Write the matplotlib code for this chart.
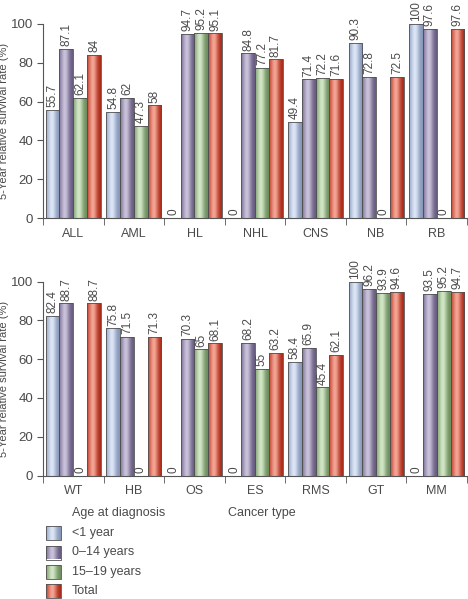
import numpy as np
import matplotlib
matplotlib.use("Agg")
import matplotlib.pyplot as plt
from matplotlib.patches import Rectangle
from matplotlib.colors import to_rgb

plt.rcParams['font.family'] = ['Liberation Sans', 'DejaVu Sans']

series = ['<1 year', '0\u201314 years', '15\u201319 years', 'Total']

top_types = ['ALL', 'AML', 'HL', 'NHL', 'CNS', 'NB', 'RB']
top_lt1 = [55.7, 54.8, 0, 0, 49.4, 90.3, 100]
top_0_14 = [87.1, 62, 94.7, 84.8, 71.4, 72.8, 97.6]
top_15_19 = [62.1, 47.3, 95.2, 77.2, 72.2, 0, 0]
top_total = [84, 58, 95.1, 81.7, 71.6, 72.5, 97.6]

bot_types = ['WT', 'HB', 'OS', 'ES', 'RMS', 'GT', 'MM']
bot_lt1 = [82.4, 75.8, 0, 0, 58.4, 100, 0]
bot_0_14 = [88.7, 71.5, 70.3, 68.2, 65.9, 96.2, 93.5]
bot_15_19 = [0, 0, 65, 55, 45.4, 93.9, 95.2]
bot_total = [88.7, 71.3, 68.1, 63.2, 62.1, 94.6, 94.7]

# (left edge, highlight, right edge) for the shaded bars
shades = [('#93a4c6', '#dce6f5', '#8494b6'),
          ('#7a6e96', '#cac2da', '#655a7e'),
          ('#7c9e6e', '#d2e6c6', '#6a8c5c'),
          ('#c23c28', '#f4a595', '#a82816')]
txt = '#4a4a4a'


def gradient(c_left, c_mid, c_right, n=60):
    t = np.linspace(0, 1, n)
    f = np.exp(-((t - 0.42) / 0.3) ** 2)
    le = np.array(to_rgb(c_left))
    ri = np.array(to_rgb(c_right))
    m = np.array(to_rgb(c_mid))
    base = le[None, :] * (1 - t[:, None]) + ri[None, :] * t[:, None]
    return (base + (m[None, :] - base) * f[:, None])[None, :, :]


def shaded_rect(ax, x, y, w, h, k):
    r = Rectangle((x, y), w, h, facecolor='none', edgecolor='#505050',
                  linewidth=0.6, zorder=3)
    ax.add_patch(r)
    im = ax.imshow(gradient(*shades[k]), extent=[x, x + w, y, y + h],
                   aspect='auto', zorder=2, interpolation='bilinear')
    im.set_clip_path(r)


def panel(ax, types, data):
    w = 0.228
    for k, vals in enumerate(data):
        for i, v in enumerate(vals):
            x0 = i - 2 * w + k * w
            if v > 0:
                shaded_rect(ax, x0, 0, w, v, k)
            ax.text(x0 + w / 2, v + 1.5, f'{v:g}', rotation=90, ha='center',
                    va='bottom', fontsize=8.5, color=txt)
    ax.set_xlim(-0.5, len(types) - 0.5)
    ax.set_ylim(0, 100)
    for s in ['top', 'right']:
        ax.spines[s].set_visible(False)
    for s in ['left', 'bottom']:
        ax.spines[s].set_color('#555555')
        ax.spines[s].set_linewidth(0.8)
    ax.spines['left'].set_bounds(0, 100)
    ax.set_yticks(range(0, 101, 20))
    ax.set_xticks(range(len(types)))
    ax.set_xticklabels(types)
    ax.set_xticks(np.arange(-0.5, len(types)), minor=True)
    ax.tick_params(axis='x', which='major', length=0, pad=7,
                   labelsize=9, labelcolor=txt)
    ax.tick_params(axis='x', which='minor', length=5, color='#555555')
    ax.tick_params(axis='y', length=4, color='#555555', labelsize=9.5,
                   labelcolor=txt, pad=3)
    ax.set_ylabel('5-Year relative survival rate (%)', fontsize=8,
                  color=txt)
    ax.yaxis.set_label_coords(-0.081, 0.5)


fig = plt.figure(figsize=(4.68, 5.99), dpi=100)
ax1 = fig.add_axes([0.0919, 0.636, 0.906, 0.324])
ax2 = fig.add_axes([0.0919, 0.206, 0.906, 0.324])
panel(ax1, top_types, [top_lt1, top_0_14, top_15_19, top_total])
panel(ax2, bot_types, [bot_lt1, bot_0_14, bot_15_19, bot_total])

# legend drawn in pixel-like figure coordinates
lg = fig.add_axes([0, 0, 1, 1], facecolor='none')
lg.text(72, 513, 'Age at diagnosis', fontsize=9, color=txt, va='center')
lg.text(228, 513, 'Cancer type', fontsize=9, color=txt, va='center')
for k, name in enumerate(series):
    yc = [533, 552.5, 572, 591][k]
    shaded_rect(lg, 46, yc - 7, 15, 14, k)
    lg.text(72, yc, name, fontsize=9, color=txt, va='center')
lg.set_xlim(0, 468)
lg.set_ylim(599, 0)
lg.axis('off')

fig.savefig('out.png', dpi=100)
